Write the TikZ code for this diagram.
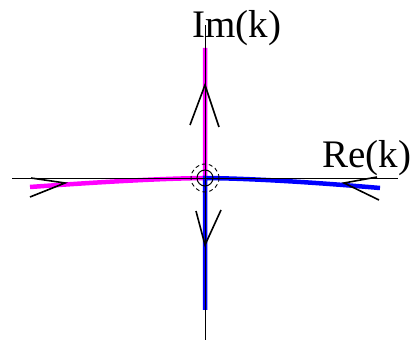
\documentclass[tikz,border=0pt]{standalone}
\usepackage{fontspec}
\setmainfont{Liberation Serif}
\definecolor{pmag}{RGB}{255,0,255}
\definecolor{pblue}{RGB}{0,0,255}
\begin{document}
\begin{tikzpicture}[x=1pt,y=1pt,
  axis/.style={line width=0.8pt},
  upper/.style={line width=4.5pt,pmag},
  lower/.style={line width=4.5pt,pblue},
  chev/.style={line width=1.6pt},
  lab/.style={anchor=base west,inner sep=0pt,font=\fontsize{39}{40}\selectfont}]
  \useasboundingbox (0,0) rectangle (413,343);
  \coordinate (o)  at (205,165);
  \coordinate (xl) at (12,165);
  \coordinate (xr) at (398,165);
  \coordinate (yb) at (205,3);
  \coordinate (yt) at (205,318);
  \coordinate (mt) at (205,295);
  \coordinate (ml) at (30,156);
  \coordinate (bb) at (205,33);
  \coordinate (br) at (380,155);
  \node[lab] (im) at (192,305) {Im(k)};
  \node[lab] (re) at (322,175) {Re(k)};
  \draw[upper] (ml) .. controls (100,161) and (160,164.5) .. (o) -- (mt);
  \draw[lower] (br) .. controls (310,161) and (250,164.5) .. (o) -- (bb);
  \draw[axis] (xl) -- (xr) (yb) -- (yt);
  \draw[chev] (190,218) -- (205,258) -- (219,216);
  \draw[chev] (196,132) -- (205,98) -- (221,133);
  \draw[chev] (31,165) -- (65,160) -- (30,146);
  \draw[chev] (377,166) -- (344,160) -- (379,143);
  \draw[line width=1pt] (o) circle (8);
  \draw[line width=0.9pt,dash pattern=on 4pt off 3pt] (o) circle (14);
\end{tikzpicture}
\end{document}
